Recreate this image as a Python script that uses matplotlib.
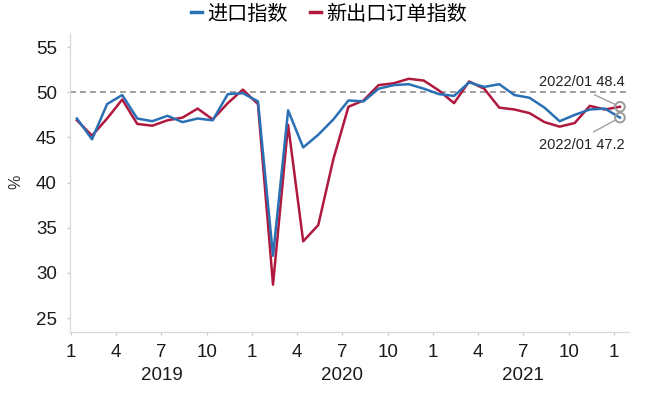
import numpy as np
import matplotlib
matplotlib.use('Agg')
import matplotlib.pyplot as plt
import matplotlib.transforms as mtransforms

plt.rcParams['font.family'] = ['Liberation Sans', 'Noto Sans CJK SC', 'DejaVu Sans']

# monthly data, 2019/01 .. 2022/01
imports = [47.1, 44.8, 48.7, 49.7, 47.1, 46.8, 47.4, 46.7, 47.1, 46.9, 49.8, 49.9,
           49.0, 31.9, 48.0, 43.9, 45.3, 47.0, 49.1, 49.0, 50.4, 50.8, 50.9, 50.4,
           49.8, 49.6, 51.1, 50.6, 50.9, 49.7, 49.4, 48.3, 46.8, 47.5, 48.1, 48.2,
           47.2]
new_export = [46.9, 45.2, 47.1, 49.2, 46.5, 46.3, 46.9, 47.2, 48.2, 47.0, 48.8, 50.3,
              48.7, 28.7, 46.4, 33.5, 35.3, 42.6, 48.4, 49.1, 50.8, 51.0, 51.5, 51.3,
              50.2, 48.8, 51.2, 50.4, 48.3, 48.1, 47.7, 46.7, 46.2, 46.6, 48.5, 48.1,
              48.4]
month_labels = ['1', '4', '7', '10'] * 3 + ['1']
years = ['2019', '2020', '2021']

blue = '#2a70b5'
red = '#b0193d'

x = np.arange(len(imports))

fig = plt.figure(figsize=(6.45, 3.96), dpi=100)
ax = fig.add_axes([70/645, 1 - 331.7/396, 559/645, 298.7/396])

ax.axhline(50, color='#8c8c8c', lw=1.2, ls=(0, (3.5, 2.5)), zorder=1)
l1, = ax.plot(x, imports, color=blue, lw=1.8, zorder=3)
l2, = ax.plot(x, new_export, color=red, lw=1.8, zorder=2)

ax.set_xlim(-0.46, 36.6)
ax.set_ylim(23.49, 56.57)
ax.set_yticks([25, 30, 35, 40, 45, 50, 55])
tick_pos = np.arange(0, 37, 3) - 0.4
ax.set_xticks(tick_pos)
ax.set_xticklabels(month_labels)

for s in ['top', 'right']:
    ax.spines[s].set_visible(False)
for s in ['left', 'bottom']:
    ax.spines[s].set_color('#d9d9d9')
    ax.spines[s].set_linewidth(0.9)
ax.tick_params(axis='both', colors='#c8c8c8', labelcolor='#1a1a1a',
               labelsize=13.5, length=2.5, width=0.9)
ax.tick_params(axis='x', pad=6)
ax.tick_params(axis='y', pad=7)

ax.set_ylabel('%', fontsize=11.5, color='#333333')
ax.yaxis.set_label_coords(-0.084, 0.501)

trans = mtransforms.blended_transform_factory(ax.transData, ax.transAxes)
for k, yr in enumerate(years):
    ax.text(6 + 12 * k - 0.4, -0.148, yr, transform=trans, ha='center', va='center',
            fontsize=13.5, color='#1a1a1a')

# end-point markers and labels
ax.scatter([x[-1], x[-1]], [new_export[-1], imports[-1]], s=48, facecolor='none',
           edgecolor='#9a9a9a', linewidth=1.4, zorder=4, clip_on=False)
ax.annotate('2022/01 %.1f' % new_export[-1], xy=(x[-1], new_export[-1]),
            xytext=(33.5, 51.14), ha='center', va='center', fontsize=10.5, color='#222222',
            arrowprops=dict(arrowstyle='-', color='#a0a0a0', lw=1.0, relpos=(0.5, 0),
                            shrinkA=5, shrinkB=4))
ax.annotate('2022/01 %.1f' % imports[-1], xy=(x[-1], imports[-1]),
            xytext=(33.5, 44.16), ha='center', va='center', fontsize=10.5, color='#222222',
            arrowprops=dict(arrowstyle='-', color='#a0a0a0', lw=1.0, relpos=(0.5, 1),
                            shrinkA=5, shrinkB=4))

fig.legend([l1, l2], ['进口指数', '新出口订单指数'], loc='center', ncol=2,
           bbox_to_anchor=(329/645, 1 - 14/396), frameon=False,
           prop={'family': ['Noto Sans CJK SC'], 'size': 14.5},
           handlelength=0.55, handletextpad=0.25, columnspacing=1.1)
for h in fig.legends[0].legend_handles:
    h.set_linewidth(2.5)

fig.savefig('out.png', dpi=100)
